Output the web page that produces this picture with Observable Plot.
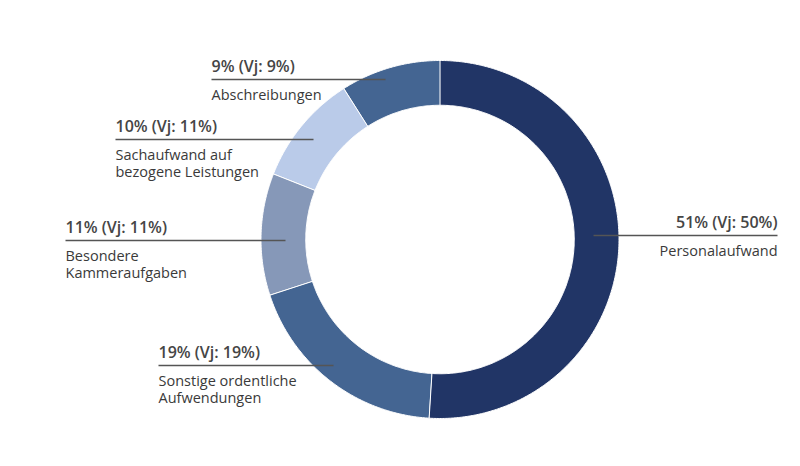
<!DOCTYPE html>
<html>
<head>
<meta charset="utf-8">
<script src="https://cdn.jsdelivr.net/npm/d3@7"></script>
<script src="https://cdn.jsdelivr.net/npm/@observablehq/plot@0.6"></script>
<style>
  html, body { margin: 0; padding: 0; background: #fff; }
  #chart { width: 800px; height: 466px; }
</style>
</head>
<body>
<div id="chart"></div>
<script>
// ---- data ----
const categories = ["Personalaufwand", "Sonstige ordentliche\nAufwendungen", "Besondere\nKammeraufgaben", "Sachaufwand auf\nbezogene Leistungen", "Abschreibungen"];
const shares = [51, 19, 11, 10, 9];
const previousYear = [50, 19, 11, 11, 9];
const colors = ["#213566", "#446592", "#8698b8", "#bacbe9", "#446592"];

// ---- layout (pixels) ----
const W = 800, H = 466;
const cx = 439.5, cy = 239, R = 179, innerRatio = 0.75;
const leaders = [
  {x1: 593, x2: 777, y: 235, side: "end"},
  {x1: 158, x2: 333, y: 365, side: "start"},
  {x1: 65,  x2: 285, y: 240, side: "start"},
  {x1: 115, x2: 313, y: 139, side: "start"},
  {x1: 211, x2: 385, y: 79,  side: "start"}
];
const valueSize = 16, nameSize = 14.5;

const toX = px => (px - cx) / R;
const toY = py => (cy - py) / R;

// slice geometry from data
const pie = d3.pie().sort(null).value(d => d.value)(
  shares.map((v, i) => ({name: categories[i], value: v, color: colors[i], i}))
);
const polys = [];
for (const s of pie) {
  const n = Math.max(2, Math.ceil((s.endAngle - s.startAngle) / (Math.PI / 360)));
  for (let k = 0; k <= n; k++) {
    const a = s.startAngle + (s.endAngle - s.startAngle) * k / n;
    polys.push({id: s.data.i, color: s.data.color, x: Math.sin(a), y: Math.cos(a)});
  }
  for (let k = n; k >= 0; k--) {
    const a = s.startAngle + (s.endAngle - s.startAngle) * k / n;
    polys.push({id: s.data.i, color: s.data.color, x: innerRatio * Math.sin(a), y: innerRatio * Math.cos(a)});
  }
}

const labels = categories.map((c, i) => ({
  value: `${shares[i]}% (Vj: ${previousYear[i]}%)`,
  name: c,
  ...leaders[i]
}));

const font = "'Open Sans', sans-serif";
const textColor = "#3a3a3a";

function labelMarks(side) {
  const data = labels.filter(d => d.side === side);
  const xf = d => toX(side === "end" ? d.x2 : d.x1);
  return [
    Plot.text(data, {
      x: xf, y: d => toY(d.y - 8 - 0.71 * valueSize),
      text: "value", textAnchor: side, lineAnchor: "top",
      fontSize: valueSize, fontWeight: 600, fill: "#454545"
    }),
    Plot.text(data, {
      x: xf, y: d => toY(d.y + 18 - 0.71 * nameSize),
      text: "name", textAnchor: side, lineAnchor: "top",
      fontSize: nameSize, lineHeight: 1.2, fill: textColor
    })
  ];
}

const chart = Plot.plot({
  width: W, height: H,
  margin: 0,
  x: {domain: [-1, 1], range: [cx - R, cx + R], axis: null},
  y: {domain: [-1, 1], range: [cy + R, cy - R], axis: null},
  style: {fontFamily: font, background: "#fff"},
  marks: [
    Plot.line(polys, {x: "x", y: "y", z: "id", fill: "color", stroke: "#ffffff", strokeWidth: 1, curve: "linear-closed"}),
    Plot.link(labels, {x1: d => toX(d.x1), x2: d => toX(d.x2), y1: d => toY(d.y), y2: d => toY(d.y), stroke: "#555", strokeWidth: 1.3}),
    ...labelMarks("start"),
    ...labelMarks("end")
  ]
});
document.getElementById("chart").append(chart);
</script>
</body>
</html>
